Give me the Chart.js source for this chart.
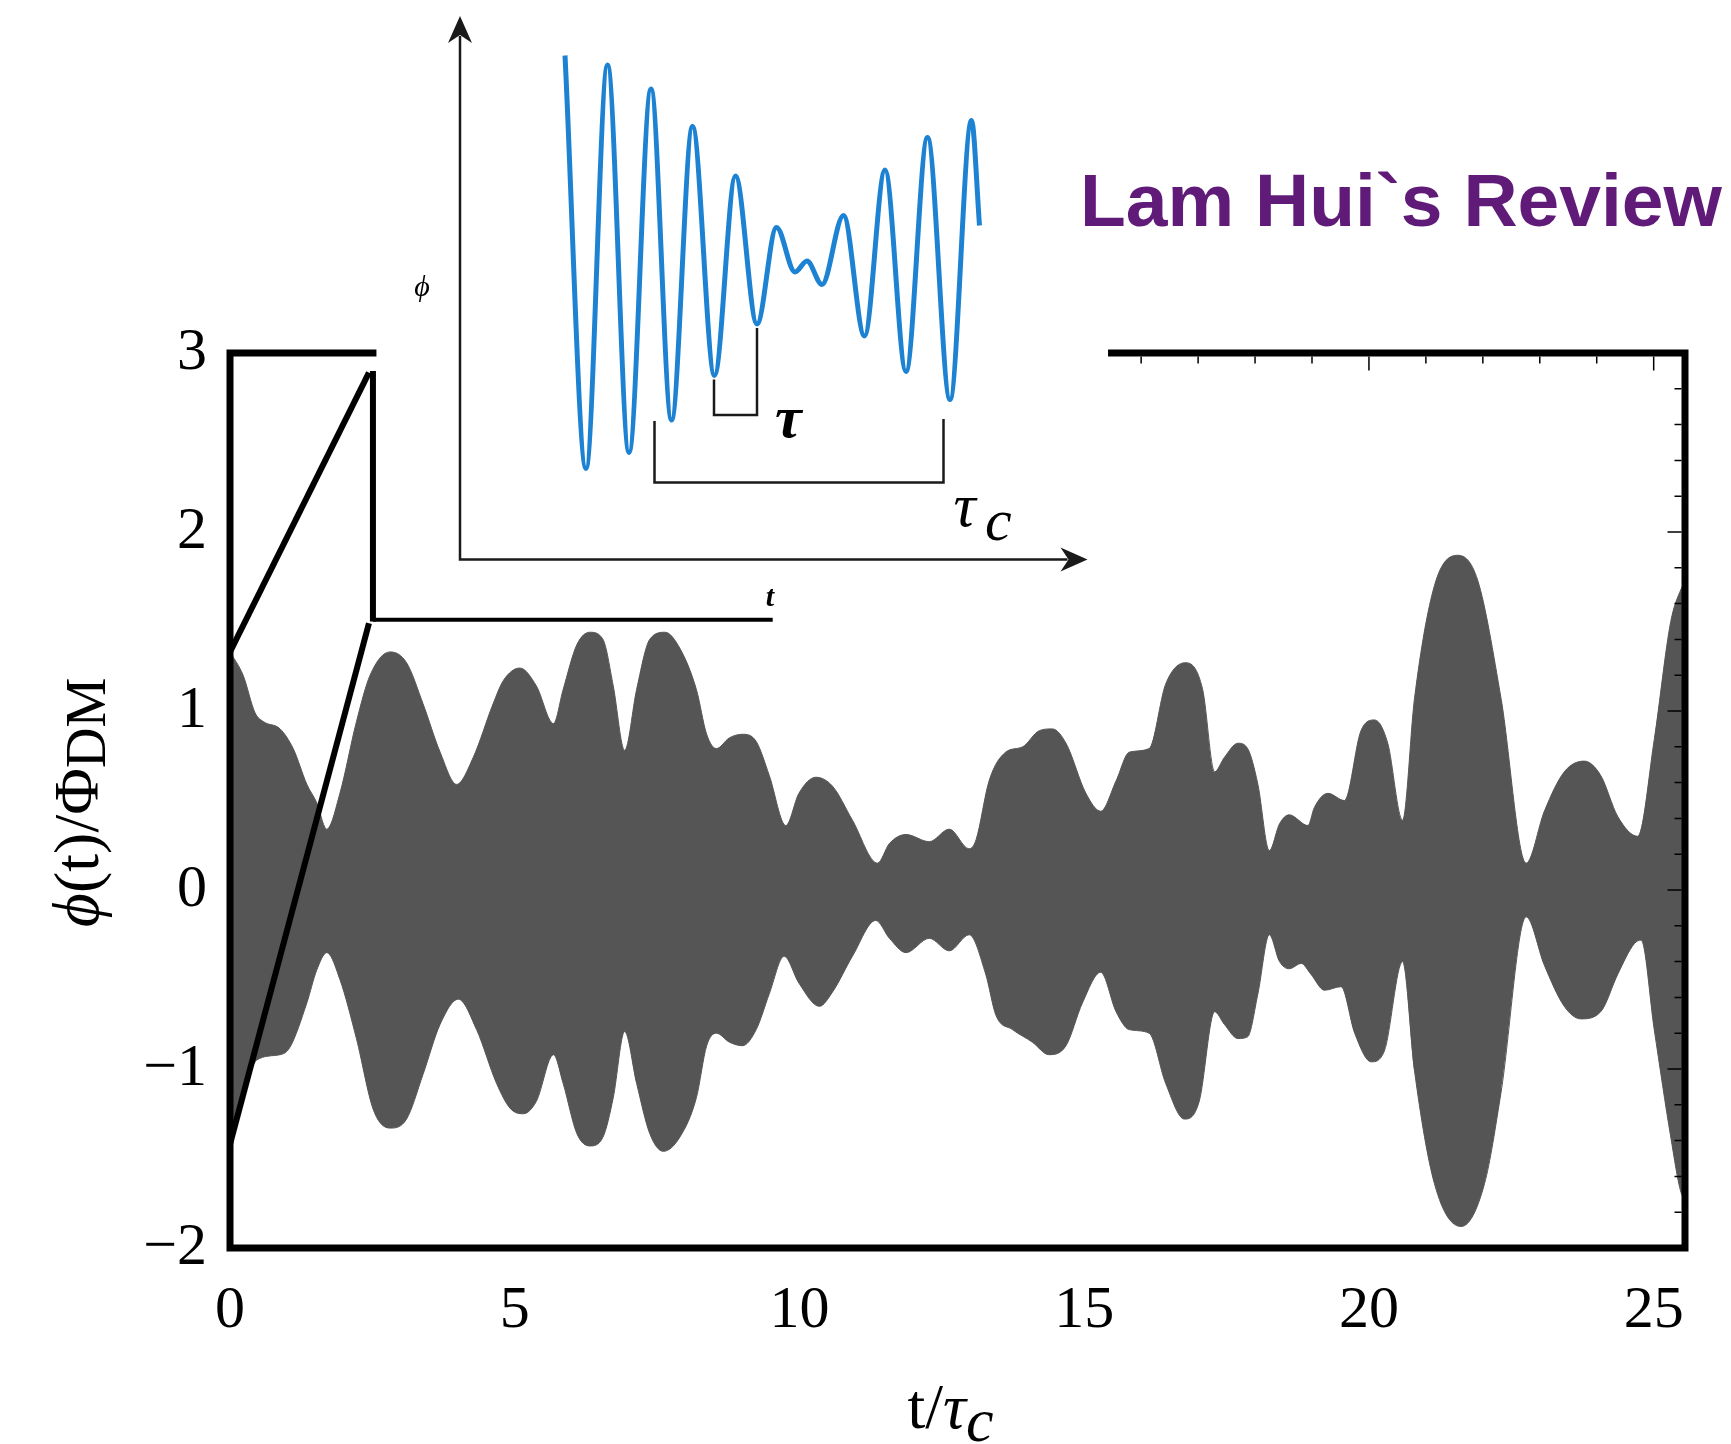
<!DOCTYPE html>
<html>
<head>
<meta charset="utf-8">
<script src="https://cdn.jsdelivr.net/npm/chart.js@4.4.1/dist/chart.umd.min.js"></script>
<style>
  html, body { margin: 0; padding: 0; background: #fff; }
  #wrap { position: relative; width: 1731px; height: 1444px; overflow: hidden; background: #fff; }
  #main { position: absolute; left: 0; top: 0; }
  #inset { position: absolute; left: 376px; top: 0; }
</style>
</head>
<body>
<div id="wrap">
  <canvas id="main" width="1731" height="1444"></canvas>
  <canvas id="inset" width="733" height="615"></canvas>
</div>
<script>
// ---- main panel: envelope of phi(t)/Phi_DM against t/tau_c ----
const xTicks = [0, 5, 10, 15, 20, 25];
const yTicks = [-2, -1, 0, 1, 2, 3];

const upperT = [0.00, 0.23, 0.44, 0.59, 0.88, 1.11, 1.35, 1.52, 1.70, 1.93, 2.22, 2.46, 2.81, 3.10, 3.39, 3.69, 3.98,
  4.27, 4.62, 4.80, 5.09, 5.38, 5.68, 5.85, 6.09, 6.32, 6.55, 6.73, 6.93, 7.14, 7.37, 7.64, 7.90, 8.19, 8.37, 8.54,
  8.77, 9.00, 9.24, 9.47, 9.76, 9.99, 10.29, 10.58, 10.93, 11.37, 11.58, 11.87, 12.28, 12.63, 12.98, 13.10, 13.33,
  13.62, 13.92, 14.21, 14.44, 14.68, 15.03, 15.29, 15.56, 15.79, 16.14, 16.43, 16.78, 17.08, 17.29, 17.46, 17.70,
  17.87, 18.05, 18.25, 18.43, 18.60, 18.93, 19.04, 19.28, 19.57, 19.86, 20.10, 20.33, 20.59, 20.80, 21.15, 21.56,
  21.91, 22.32, 22.76, 23.08, 23.43, 23.78, 24.07, 24.37, 24.72, 25.01, 25.30, 25.48, 25.55];
const upperV = [1.33, 1.20, 0.99, 0.94, 0.90, 0.79, 0.59, 0.49, 0.34, 0.54, 0.94, 1.20, 1.33, 1.27, 1.04, 0.77, 0.59,
  0.74, 1.04, 1.17, 1.24, 1.14, 0.93, 1.12, 1.37, 1.44, 1.40, 1.14, 0.78, 1.12, 1.40, 1.44, 1.35, 1.12, 0.87, 0.79,
  0.85, 0.87, 0.83, 0.64, 0.36, 0.54, 0.63, 0.58, 0.39, 0.15, 0.26, 0.31, 0.27, 0.34, 0.23, 0.28, 0.61,
  0.77, 0.80, 0.89, 0.90, 0.82, 0.54, 0.44, 0.61, 0.77, 0.79, 1.15, 1.27, 1.12, 0.66, 0.74, 0.82,
  0.79, 0.59, 0.22, 0.37, 0.42, 0.36, 0.46, 0.54, 0.50, 0.89, 0.95, 0.82, 0.39, 1.07, 1.70, 1.87,
  1.73, 1.07, 0.15, 0.44, 0.66, 0.72, 0.64, 0.41, 0.30, 0.84, 1.50, 1.68, 1.72];

const lowerT = [0.00, 0.23, 0.47, 0.88, 1.05, 1.35, 1.52, 1.70, 1.93, 2.22, 2.52, 2.81, 3.10, 3.39, 3.69, 4.01, 4.33,
  4.68, 4.92, 5.15, 5.38, 5.68, 5.85, 6.09, 6.32, 6.55, 6.73, 6.93, 7.14, 7.37, 7.61, 7.90, 8.19, 8.37, 8.54, 8.77,
  9.00, 9.24, 9.47, 9.73, 9.99, 10.35, 10.58, 10.93, 11.34, 11.58, 11.87, 12.28, 12.63, 12.98, 13.27, 13.45, 13.74,
  14.09, 14.38, 14.68, 14.97, 15.29, 15.56, 15.79, 16.14, 16.43, 16.76, 17.02, 17.29, 17.46, 17.70, 17.87, 18.05,
  18.25, 18.43, 18.60, 18.81, 18.98, 19.22, 19.51, 19.75, 20.04, 20.27, 20.59, 20.80, 21.15, 21.62, 22.03, 22.32,
  22.76, 23.08, 23.43, 23.72, 24.07, 24.37, 24.66, 24.78, 25.01, 25.30, 25.48, 25.55];
const lowerV = [-1.42, -1.16, -0.95, -0.92, -0.88, -0.63, -0.45, -0.35, -0.50, -0.83, -1.23, -1.33, -1.28, -1.03, -0.75, -0.61, -0.78,
  -1.08, -1.22, -1.25, -1.18, -0.92, -1.08, -1.36, -1.43, -1.38, -1.16, -0.79, -1.08, -1.36, -1.46, -1.38, -1.16, -0.87, -0.80, -0.85,
  -0.87, -0.78, -0.58, -0.37, -0.52, -0.65, -0.57, -0.37, -0.17, -0.27, -0.35, -0.27, -0.34, -0.25, -0.47, -0.70, -0.78,
  -0.85, -0.92, -0.87, -0.63, -0.46, -0.68, -0.78, -0.80, -1.08, -1.28, -1.18, -0.68, -0.75, -0.83, -0.82, -0.58,
  -0.25, -0.40, -0.44, -0.41, -0.47, -0.56, -0.54, -0.80, -0.96, -0.90, -0.40, -1.01, -1.64, -1.88, -1.64, -1.13,
  -0.15, -0.42, -0.65, -0.72, -0.68, -0.47, -0.30, -0.28, -0.78, -1.38, -1.69, -1.72];

// lines tying the magnified window to the inset (data units of the main panel)
const guideLines = [
  [[0.00, 1.33], [2.44, 2.89]],
  [[2.51, 2.90], [2.51, 1.50]],
  [[0.00, -1.42], [2.44, 1.49]],
  [[2.51, 1.51], [9.53, 1.51]]
];

// ---- inset: a stretch of the raw field phi(t) ----
const insetT   = [2.10, 2.52, 2.95, 3.38, 3.82, 4.23, 4.65, 5.09, 5.51, 5.94, 6.33, 6.70, 6.94, 7.24, 7.67, 8.09, 8.50, 8.92, 9.35, 9.80, 10.23, 10.39];
const insetPhi = [10.08, 1.82, 9.89, 2.14, 9.41, 2.79, 8.66, 3.68, 7.67, 4.71, 6.64, 5.75, 5.97, 5.50, 6.88, 4.47, 7.79, 3.76, 8.44, 3.20, 8.78, 6.68];
const tauBracket  = [[5.08, 3.60], [5.08, 2.89], [5.94, 2.89], [5.94, 4.63]];
const tauCBracket = [[3.89, 2.77], [3.89, 1.54], [9.67, 1.54], [9.67, 2.81]];

const SERIF = '"Liberation Serif", "Times New Roman", "DejaVu Serif", serif';
const SANS = '"Liberation Sans", Arial, sans-serif';
const toPts = (ts, vs) => ts.map((t, i) => ({ x: t, y: vs[i] }));
const pairPts = arr => arr.map(([x, y]) => ({ x, y }));
const fmt = v => (v < 0 ? '\u2212' + Math.abs(v) : String(v));

function drawParts(ctx, parts, cx, baseY) {
  let total = 0;
  parts.forEach(p => { ctx.font = p.font; p.w = ctx.measureText(p.t).width; total += p.w; });
  let x = cx - total / 2;
  parts.forEach(p => {
    ctx.font = p.font;
    ctx.fillText(p.t, x, baseY + (p.dy || 0));
    x += p.w;
  });
}

const framePlugin = {
  id: 'frame',
  afterDatasetsDraw(chart) {
    const { ctx, chartArea: a, scales } = chart;
    const sx = scales.x, sy = scales.y;
    ctx.save();
    ctx.strokeStyle = '#000';
    ctx.lineWidth = 7;
    ctx.lineCap = 'square';
    ctx.beginPath();
    // top edge is interrupted where the inset sits
    ctx.moveTo(sx.getPixelForValue(2.51), a.top);
    ctx.lineTo(a.left, a.top);
    ctx.lineTo(a.left, a.bottom);
    ctx.lineTo(a.right, a.bottom);
    ctx.lineTo(a.right, a.top);
    ctx.lineTo(sx.getPixelForValue(15.48), a.top);
    ctx.stroke();

    // inward ticks on the right (every 0.2) and top (every 1)
    ctx.lineWidth = 1.5;
    ctx.lineCap = 'butt';
    ctx.beginPath();
    for (let k = -9; k <= 14; k++) {
      const v = k / 5;
      const py = sy.getPixelForValue(v);
      const len = (k % 5 === 0) ? 14 : 7;
      ctx.moveTo(a.right - 3.5, py);
      ctx.lineTo(a.right - 3.5 - len, py);
    }
    for (let t = 16; t <= 25; t++) {
      const px = sx.getPixelForValue(t);
      const len = (t % 5 === 0) ? 14 : 7;
      ctx.moveTo(px, a.top + 3.5);
      ctx.lineTo(px, a.top + 3.5 + len);
    }
    ctx.stroke();
    ctx.restore();
  },
  afterDraw(chart) {
    const { ctx, chartArea: a } = chart;
    ctx.save();
    ctx.fillStyle = '#000';
    ctx.textBaseline = 'alphabetic';
    ctx.textAlign = 'left';
    // x-axis title: t/τ_c
    drawParts(ctx, [
      { t: 't/', font: `64px ${SERIF}` },
      { t: '\u03C4', font: `italic 64px ${SERIF}` },
      { t: 'c', font: `italic 62px ${SERIF}`, dy: 13 }
    ], (a.left + a.right) / 2 - 7, 1428);

    // y-axis title: ϕ(t)/Φ_DM
    ctx.save();
    ctx.translate(98, (a.top + a.bottom) / 2 + 2);
    ctx.rotate(-Math.PI / 2);
    drawParts(ctx, [
      { t: '\u03D5', font: `italic 66px ${SERIF}` },
      { t: '(t)/\u03A6', font: `64px ${SERIF}` },
      { t: 'DM', font: `56px ${SERIF}`, dy: 7 }
    ], 0, 0);
    ctx.restore();

    // corner caption
    ctx.fillStyle = '#601a78';
    ctx.font = `bold 75px ${SANS}`;
    ctx.fillText('Lam Hui`s Review', 1080, 226);
    ctx.restore();
  }
};

new Chart(document.getElementById('main'), {
  type: 'line',
  data: {
    datasets: [
      ...guideLines.map((seg, i) => ({
        data: pairPts(seg),
        borderColor: '#000',
        borderWidth: i === 3 ? 4 : 6,
        borderCapStyle: 'butt',
        pointRadius: 0,
        fill: false,
        tension: 0,
        order: 0
      })),
      {
        data: toPts(upperT, upperV),
        borderColor: '#555555',
        borderWidth: 1,
        backgroundColor: '#555555',
        fill: '+1',
        pointRadius: 0,
        cubicInterpolationMode: 'monotone',
        order: 1
      },
      {
        data: toPts(lowerT, lowerV),
        borderColor: '#555555',
        borderWidth: 1,
        backgroundColor: '#555555',
        fill: false,
        pointRadius: 0,
        cubicInterpolationMode: 'monotone',
        order: 2
      }
    ]
  },
  options: {
    responsive: false,
    animation: false,
    devicePixelRatio: 1,
    layout: { padding: { top: 353, right: 46, left: 0, bottom: 0 } },
    plugins: { legend: { display: false }, tooltip: { enabled: false }, title: { display: false } },
    scales: {
      x: {
        type: 'linear', min: 0, max: 25.55, position: 'bottom',
        afterBuildTicks: s => { s.ticks = xTicks.map(v => ({ value: v })); },
        afterFit: s => { s.height = 196; },
        grid: { display: false, drawTicks: false },
        border: { display: false },
        ticks: { font: { family: SERIF, size: 60 }, color: '#000', padding: 27, maxRotation: 0, autoSkip: false, callback: v => fmt(v) }
      },
      y: {
        type: 'linear', min: -2, max: 3,
        afterBuildTicks: s => { s.ticks = yTicks.map(v => ({ value: v })); },
        afterFit: s => { s.width = 230; },
        grid: { display: false, drawTicks: false },
        border: { display: false },
        ticks: { font: { family: SERIF, size: 60 }, color: '#000', padding: 23, autoSkip: false, callback: v => fmt(v) }
      }
    }
  },
  plugins: [framePlugin]
});

// ---- inset chart ----
const insetDeco = {
  id: 'insetDeco',
  afterDatasetsDraw(chart) {
    const { ctx, chartArea: a, scales } = chart;
    const sx = scales.x, sy = scales.y;
    ctx.save();
    ctx.strokeStyle = '#1a1a1a';
    ctx.fillStyle = '#1a1a1a';
    ctx.lineWidth = 2.5;
    // axes with arrow heads
    ctx.beginPath();
    ctx.moveTo(a.left, a.top + 20);
    ctx.lineTo(a.left, a.bottom);
    ctx.lineTo(a.right - 20, a.bottom);
    ctx.stroke();
    ctx.beginPath();
    ctx.moveTo(a.left, a.top);
    ctx.lineTo(a.left - 12, a.top + 27);
    ctx.lineTo(a.left, a.top + 19);
    ctx.lineTo(a.left + 12, a.top + 27);
    ctx.closePath();
    ctx.fill();
    ctx.beginPath();
    ctx.moveTo(a.right, a.bottom);
    ctx.lineTo(a.right - 27, a.bottom - 12);
    ctx.lineTo(a.right - 19, a.bottom);
    ctx.lineTo(a.right - 27, a.bottom + 12);
    ctx.closePath();
    ctx.fill();

    ctx.fillStyle = '#000';
    ctx.textBaseline = 'alphabetic';
    ctx.textAlign = 'left';
    ctx.font = `italic bold 60px ${SERIF}`;
    ctx.fillText('\u03C4', sx.getPixelForValue(6.30), sy.getPixelForValue(2.45));
    ctx.font = `italic 62px ${SERIF}`;
    ctx.fillText('\u03C4', sx.getPixelForValue(9.87), sy.getPixelForValue(0.67));
    ctx.font = `italic 60px ${SERIF}`;
    ctx.fillText('c', sx.getPixelForValue(10.50), sy.getPixelForValue(0.39));

    ctx.textAlign = 'center';
    ctx.font = `italic 30px ${SERIF}`;
    ctx.textBaseline = 'middle';
    ctx.fillText('\u03D5', sx.getPixelForValue(-0.76), sy.getPixelForValue(5.43));
    ctx.textBaseline = 'alphabetic';
    ctx.font = `bold italic 30px ${SERIF}`;
    ctx.fillText('t', sx.getPixelForValue(6.20), sy.getPixelForValue(-0.93));
    ctx.restore();
  }
};

new Chart(document.getElementById('inset'), {
  type: 'line',
  data: {
    datasets: [
      {
        data: toPts(insetT, insetPhi),
        borderColor: '#1e82d2',
        borderWidth: 5,
        pointRadius: 0,
        fill: false,
        cubicInterpolationMode: 'monotone'
      },
      {
        data: pairPts(tauBracket),
        borderColor: '#1a1a1a', borderWidth: 2.5, pointRadius: 0, fill: false, tension: 0
      },
      {
        data: pairPts(tauCBracket),
        borderColor: '#1a1a1a', borderWidth: 2.5, pointRadius: 0, fill: false, tension: 0
      }
    ]
  },
  options: {
    responsive: false,
    animation: false,
    devicePixelRatio: 1,
    layout: { padding: { left: 84, right: 21.5, top: 16, bottom: 55.5 } },
    plugins: { legend: { display: false }, tooltip: { enabled: false } },
    scales: {
      x: { type: 'linear', min: 0, max: 12.55, display: false },
      y: { type: 'linear', min: 0, max: 10.87, display: false }
    }
  },
  plugins: [insetDeco]
});
</script>
</body>
</html>
